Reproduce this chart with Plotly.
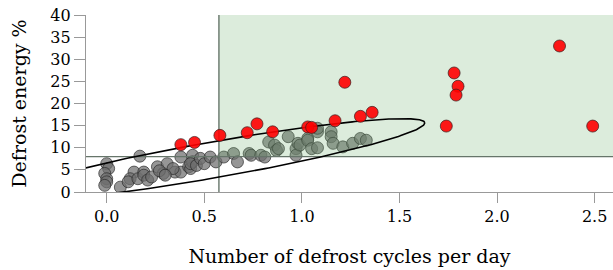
import numpy as np
import plotly.graph_objects as go

# ---- data ----
gray_x = [0.00, 0.01, -0.01, 0.00, 0.00, -0.01, 0.07, 0.17, 0.14, 0.12, 0.11, 0.16, 0.19, 0.19,
          0.21, 0.23, 0.26, 0.29, 0.31, 0.35, 0.38, 0.38, 0.42, 0.43, 0.44, 0.44, 0.43, 0.46,
          0.48, 0.50, 0.53, 0.56, 0.60, 0.65, 0.67, 0.73, 0.74, 0.79, 0.81, 0.83, 0.86, 0.87,
          0.88, 0.93, 0.97, 0.97, 0.98, 0.99, 1.03, 1.03, 1.05, 1.08, 1.08, 1.08, 1.15, 1.15,
          1.16, 1.21, 1.26, 1.30, 1.33, 0.27, 0.34, 0.30]
gray_y = [6.4, 5.3, 4.2, 3.0, 2.3, 1.5, 1.1, 8.1, 4.5, 3.0, 2.3, 3.0, 4.5, 3.8,
          2.7, 3.4, 5.7, 4.2, 6.4, 4.5, 4.5, 7.9, 5.7, 5.3, 8.3, 6.8, 6.4, 6.0,
          7.6, 6.4, 7.9, 6.8, 7.9, 8.7, 6.8, 8.7, 8.3, 8.3, 7.9, 11.3, 10.6, 9.4,
          9.8, 12.5, 9.8, 8.3, 11.0, 10.6, 12.1, 11.7, 9.8, 13.6, 14.4, 10.0, 13.6, 12.5,
          11.0, 10.2, 11.0, 12.1, 11.7, 4.8, 5.3, 3.8]

red_x = [0.38, 0.45, 0.58, 0.72, 0.77, 0.85, 1.03, 1.05, 1.17, 1.22, 1.30, 1.36,
         1.74, 1.78, 1.80, 1.79, 2.32, 2.49]
red_y = [10.7, 11.2, 12.8, 13.4, 15.4, 13.6, 14.7, 14.6, 16.1, 24.8, 17.1, 18.0,
         14.9, 26.9, 23.9, 21.9, 33.0, 14.9]

# thresholds
x_thr = 0.575
y_thr = 8.0

# ellipse parameters (data units)
ell_cx, ell_cy = 0.55, 7.28
ell_ax = 1.08
ell_yc, ell_ys = 8.32, 4.13

x_range = [-0.106, 2.594]
y_range = [0, 40]
x_ticks = [0.0, 0.5, 1.0, 1.5, 2.0, 2.5]
y_ticks = [0, 5, 10, 15, 20, 25, 30, 35, 40]

FONT = "DejaVu Serif"

fig = go.Figure()

fig.add_trace(go.Scatter(
    x=gray_x, y=gray_y, mode="markers",
    marker=dict(size=12, color="rgba(110,110,110,0.72)",
                line=dict(color="rgba(40,40,40,0.85)", width=0.8)),
    showlegend=False, hoverinfo="skip"))

# shaded region
fig.add_trace(go.Scatter(
    x=[x_thr, x_range[1], x_range[1], x_thr, x_thr],
    y=[y_thr, y_thr, y_range[1], y_range[1], y_thr],
    fill="toself", fillcolor="rgba(115,179,115,0.25)",
    mode="lines", line=dict(width=0), showlegend=False, hoverinfo="skip"))

# threshold lines
fig.add_trace(go.Scatter(x=[x_thr, x_thr], y=y_range, mode="lines",
                         line=dict(color="#66756a", width=1.4),
                         showlegend=False, hoverinfo="skip"))
fig.add_trace(go.Scatter(x=x_range, y=[y_thr, y_thr], mode="lines",
                         line=dict(color="#66756a", width=1.4),
                         showlegend=False, hoverinfo="skip"))

t = np.linspace(0, 2 * np.pi, 361)
ex = ell_cx + ell_ax * np.cos(t)
ey = ell_cy + ell_yc * np.cos(t) + ell_ys * np.sin(t)
fig.add_trace(go.Scatter(x=ex, y=ey, mode="lines",
                         line=dict(color="black", width=1.6),
                         showlegend=False, hoverinfo="skip"))

fig.add_trace(go.Scatter(
    x=red_x, y=red_y, mode="markers",
    marker=dict(size=12, color="rgba(255,0,0,0.9)",
                line=dict(color="rgba(60,30,30,0.9)", width=0.8)),
    showlegend=False, hoverinfo="skip"))

axis_common = dict(showgrid=False, zeroline=False, showline=True, linecolor="#999999",
                   linewidth=1.3, ticks="outside", tickcolor="#999999", tickwidth=1.3,
                   automargin=False, ticklabeloverflow="allow",
                   tickfont=dict(family=FONT, size=16, color="black"))

fig.update_xaxes(range=x_range, tickvals=x_ticks, tickformat=".1f", ticklen=10,
                 title=dict(text="Number of defrost cycles per day",
                            font=dict(family=FONT, size=19, color="black"), standoff=24),
                 **axis_common)
fig.update_yaxes(range=y_range, tickvals=y_ticks, ticklen=11,
                 title=dict(text="Defrost energy %",
                            font=dict(family=FONT, size=19, color="black"), standoff=18),
                 **axis_common)

fig.update_layout(width=613, height=270, margin=dict(l=86, r=0, t=15, b=78),
                  plot_bgcolor="white", paper_bgcolor="white",
                  font=dict(family=FONT, color="black"))

# remove the default 8px page margin so the figure fills the window exactly
fig.write_html("out.html", config={"displayModeBar": False},
               post_script="document.body.style.margin='0';document.body.style.overflow='hidden';")
